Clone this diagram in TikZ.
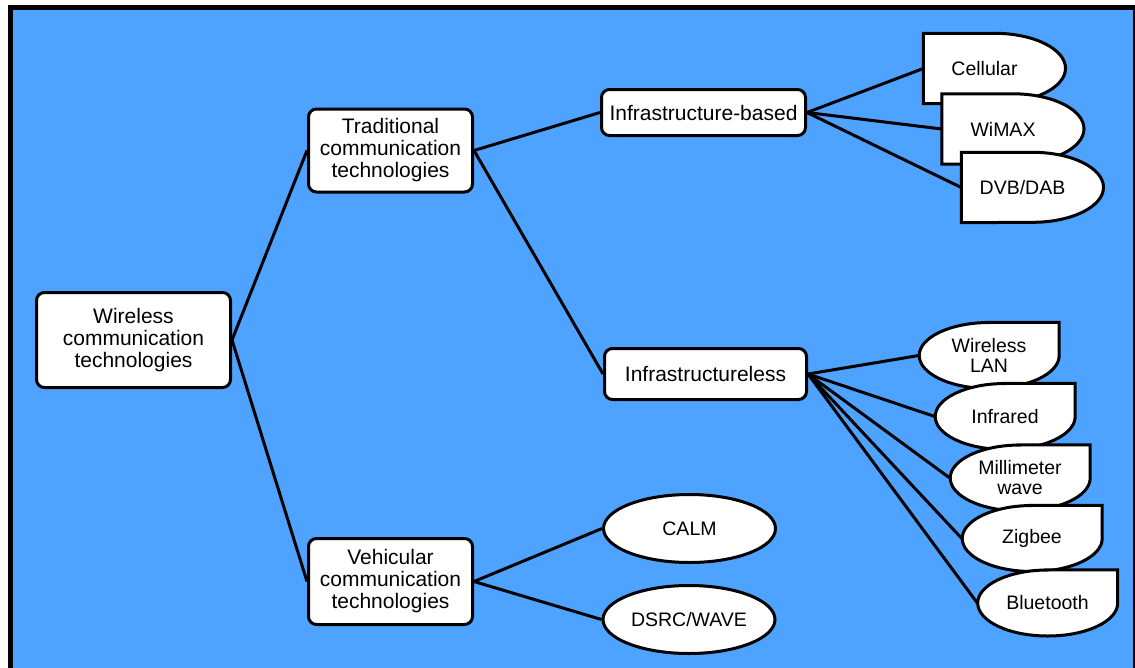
\documentclass[tikz,border=0pt]{standalone}
\usepackage{fontspec}
\setmainfont{Liberation Sans}
\usetikzlibrary{shapes.geometric}
\definecolor{skyfill}{RGB}{77,163,255}
\pgfdeclarelayer{framelayer}
\pgfdeclarelayer{edgelayer}
\pgfdeclarelayer{shapelayer}
\pgfsetlayers{framelayer,edgelayer,shapelayer,main}
\newcommand\leftnudge{\kern-20pt}
\begin{document}
\begin{tikzpicture}[x=1pt,y=-1pt,
  box/.style={draw, line width=3pt, fill=white, rounded corners=8pt, inner sep=0pt,
    align=center, font=\fontsize{21}{22}\selectfont},
  oval/.style={ellipse, draw, line width=3pt, fill=white, inner sep=0pt,
    minimum width=172pt, minimum height=68pt, font=\fontsize{19.5}{20}\selectfont},
  rleaf/.style={inner sep=0pt, minimum width=142pt, minimum height=70pt,
    font=\fontsize{19.5}{20}\selectfont},
  lleaf/.style={inner sep=0pt, minimum width=140pt, minimum height=66pt, align=center,
    font=\fontsize{19.5}{20}\selectfont},
  link/.style={line width=3pt},
  outline/.style={draw, line width=3pt, fill=white, line join=miter}]
\useasboundingbox (0,0) rectangle (1135,667);

% frame
\begin{pgfonlayer}{framelayer}
  \fill[white] (0,0) rectangle (1135,667);
  \begin{scope}
    \clip (0,0) rectangle (1135,667);
    \draw[line width=4.5pt, fill=skyfill] (10.5,7.3) rectangle (1135,700);
  \end{scope}
\end{pgfonlayer}

% main boxes
\node[box, minimum width=194pt, minimum height=95pt] (root) at (133.5,340) {Wireless\\communication\\technologies};
\node[box, minimum width=164pt, minimum height=83pt] (trad) at (390.5,150.5) {Traditional\\communication\\technologies};
\node[box, minimum width=164pt, minimum height=86pt] (veh) at (390.5,581.5) {Vehicular\\communication\\technologies};
\node[box, minimum width=204pt, minimum height=46pt] (infb) at (703.5,112.5) {Infrastructure-based};
\node[box, minimum width=202pt, minimum height=51pt] (infl) at (705.5,374) {Infrastructureless};

% vehicular ovals
\node[oval] (calm) at (689.5,528.5) {CALM};
\node[oval] (dsrc) at (689,619.5) {DSRC/WAVE};

% infrastructure-based leaves
\node[rleaf] (cel) at (994.5,68.5) {\leftnudge Cellular};
\node[rleaf] (wim) at (1013,129) {\leftnudge WiMAX};
\node[rleaf] (dvb) at (1032.5,187.5) {\leftnudge DVB/DAB};

% infrastructureless leaves
\node[lleaf] (wl) at (989,355.5) {Wireless\\LAN};
\node[lleaf] (ir) at (1005,416.5) {Infrared};
\node[lleaf] (mm) at (1020,478) {Millimeter\\wave};
\node[lleaf] (zb) at (1032,538.5) {Zigbee};
\node[lleaf] (bt) at (1047.5,603) {Bluetooth};

% leaf outlines, later ones overlapping earlier ones
\begin{pgfonlayer}{shapelayer}
  \foreach \n in {cel,wim,dvb}
    \draw[outline] (\n.north west) -- (\n.north)
      arc[start angle=-90, end angle=90, x radius=71, y radius=35]
      -- (\n.south west) -- cycle;
  \foreach \n in {wl,ir,mm,zb,bt}
    \draw[outline] (\n.north) -- (\n.north east) -- (\n.east)
      arc[start angle=0, end angle=180, x radius=70, y radius=33]
      arc[start angle=180, end angle=270, x radius=70, y radius=33] -- cycle;
\end{pgfonlayer}

% connectors
\begin{pgfonlayer}{edgelayer}
  \draw[link] (root.east) -- (trad.west);
  \draw[link] (root.east) -- (veh.west);
  \draw[link] (trad.east) -- (infb.west);
  \draw[link] (trad.east) -- (infl.west);
  \draw[link] (veh.east) -- (calm.west);
  \draw[link] (veh.east) -- (dsrc.west);
  \foreach \n in {cel,wim,dvb}
    \draw[link] (infb.east) -- (\n.west);
  \foreach \n in {wl,ir,mm,zb,bt}
    \draw[link] (infl.east) -- (\n.west);
\end{pgfonlayer}
\end{tikzpicture}
\end{document}
